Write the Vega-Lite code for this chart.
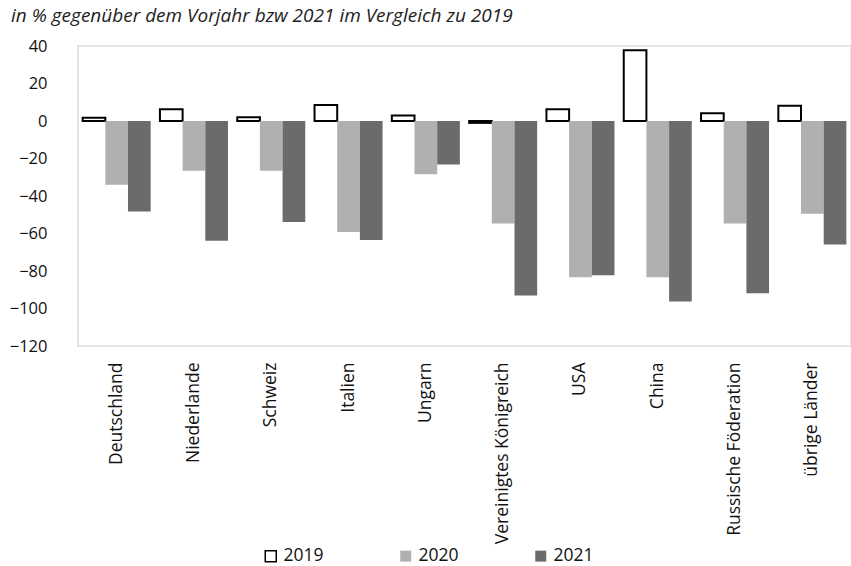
{
  "$schema": "https://vega.github.io/schema/vega-lite/v6.json",
  "autosize": "none",
  "width": 773,
  "height": 300,
  "padding": {"left": 78, "top": 46, "right": 0, "bottom": 220},
  "background": "white",
  "title": {
    "text": "in % gegenüber dem Vorjahr bzw 2021 im Vergleich zu 2019",
    "anchor": "start",
    "frame": "group",
    "dx": -67,
    "offset": 12,
    "font": "Open Sans",
    "fontSize": 19,
    "fontStyle": "italic",
    "fontWeight": "normal",
    "color": "#222222"
  },
  "config": {
    "view": {"stroke": "#dcdcdc", "strokeWidth": 1.5},
    "font": "Open Sans",
    "axisY": {"labelOverlap": false, "labelFlush": false}
  },
  "data": {
    "values": [
      {"land": "Deutschland", "jahr": "2019", "wert": 1.8},
      {"land": "Deutschland", "jahr": "2020", "wert": -34.0},
      {"land": "Deutschland", "jahr": "2021", "wert": -48.3},
      {"land": "Niederlande", "jahr": "2019", "wert": 6.3},
      {"land": "Niederlande", "jahr": "2020", "wert": -26.5},
      {"land": "Niederlande", "jahr": "2021", "wert": -63.8},
      {"land": "Schweiz", "jahr": "2019", "wert": 2.0},
      {"land": "Schweiz", "jahr": "2020", "wert": -26.5},
      {"land": "Schweiz", "jahr": "2021", "wert": -53.8},
      {"land": "Italien", "jahr": "2019", "wert": 8.6},
      {"land": "Italien", "jahr": "2020", "wert": -59.2},
      {"land": "Italien", "jahr": "2021", "wert": -63.5},
      {"land": "Ungarn", "jahr": "2019", "wert": 3.0},
      {"land": "Ungarn", "jahr": "2020", "wert": -28.4},
      {"land": "Ungarn", "jahr": "2021", "wert": -23.2},
      {"land": "Vereinigtes Königreich", "jahr": "2019", "wert": -1.0},
      {"land": "Vereinigtes Königreich", "jahr": "2020", "wert": -54.7},
      {"land": "Vereinigtes Königreich", "jahr": "2021", "wert": -93.0},
      {"land": "USA", "jahr": "2019", "wert": 6.3},
      {"land": "USA", "jahr": "2020", "wert": -83.3},
      {"land": "USA", "jahr": "2021", "wert": -82.2},
      {"land": "China", "jahr": "2019", "wert": 37.7},
      {"land": "China", "jahr": "2020", "wert": -83.3},
      {"land": "China", "jahr": "2021", "wert": -96.2},
      {"land": "Russische Föderation", "jahr": "2019", "wert": 4.1},
      {"land": "Russische Föderation", "jahr": "2020", "wert": -54.7},
      {"land": "Russische Föderation", "jahr": "2021", "wert": -91.9},
      {"land": "übrige Länder", "jahr": "2019", "wert": 8.2},
      {"land": "übrige Länder", "jahr": "2020", "wert": -49.4},
      {"land": "übrige Länder", "jahr": "2021", "wert": -65.8}
    ]
  },
  "encoding": {
    "x": {
      "field": "land",
      "type": "nominal",
      "sort": null,
      "scale": {"paddingInner": 0.12, "paddingOuter": 0.06},
      "axis": {
        "title": null,
        "labelAngle": -90,
        "labelAlign": "right",
        "labelBaseline": "middle",
        "labelPadding": 16,
        "labelLimit": 400,
        "ticks": false,
        "domain": false,
        "labelOverlap": false,
        "labelFont": "Open Sans",
        "labelFontSize": 17.5,
        "labelColor": "#111111"
      }
    }
  },
  "layer": [
    {
      "mark": {"type": "bar", "strokeWidth": 2},
      "encoding": {
        "xOffset": {"field": "jahr", "type": "nominal", "scale": {"paddingInner": 0, "paddingOuter": 0}},
        "y": {
          "field": "wert",
          "type": "quantitative",
          "scale": {"domain": [-120, 40], "nice": false, "zero": false},
          "axis": {
            "title": null,
            "values": [-120, -100, -80, -60, -40, -20, 0, 20, 40],
            "grid": false,
            "ticks": false,
            "domain": false,
            "labelOverlap": false,
            "labelFlush": false,
            "labelPadding": 31,
            "labelFont": "Open Sans",
            "labelFontSize": 16.5,
            "labelColor": "#111111"
          }
        },
        "fill": {
          "field": "jahr",
          "type": "nominal",
          "scale": {"domain": ["2019", "2020", "2021"], "range": ["#ffffff", "#b0b0b0", "#6b6b6b"]},
          "legend": {
            "title": null,
            "orient": "none",
            "direction": "horizontal",
            "legendX": 184,
            "legendY": 501,
            "symbolType": "square",
            "symbolSize": 121,
            "symbolStrokeWidth": 1.5,
            "labelFont": "Open Sans",
            "labelFontSize": 17.5,
            "labelColor": "#111111",
            "labelOffset": 4,
            "columnPadding": 73
          }
        },
        "stroke": {
          "field": "jahr",
          "type": "nominal",
          "scale": {"domain": ["2019", "2020", "2021"], "range": ["#000000", "transparent", "transparent"]},
          "legend": {
            "title": null,
            "orient": "none",
            "direction": "horizontal",
            "legendX": 184,
            "legendY": 501,
            "symbolType": "square",
            "symbolSize": 121,
            "symbolStrokeWidth": 1.5,
            "labelFont": "Open Sans",
            "labelFontSize": 17.5,
            "labelColor": "#111111",
            "labelOffset": 4,
            "columnPadding": 73
          }
        }
      }
    },
    {
      "mark": {"type": "rule", "color": "#000000", "strokeWidth": 2},
      "encoding": {
        "y": {
          "datum": 0,
          "type": "quantitative",
          "axis": {
            "title": null,
            "values": [-120, -100, -80, -60, -40, -20, 0, 20, 40],
            "grid": false,
            "ticks": false,
            "domain": false,
            "labelOverlap": false,
            "labelFlush": false,
            "labelPadding": 31,
            "labelFont": "Open Sans",
            "labelFontSize": 16.5,
            "labelColor": "#111111"
          }
        }
      }
    }
  ]
}
